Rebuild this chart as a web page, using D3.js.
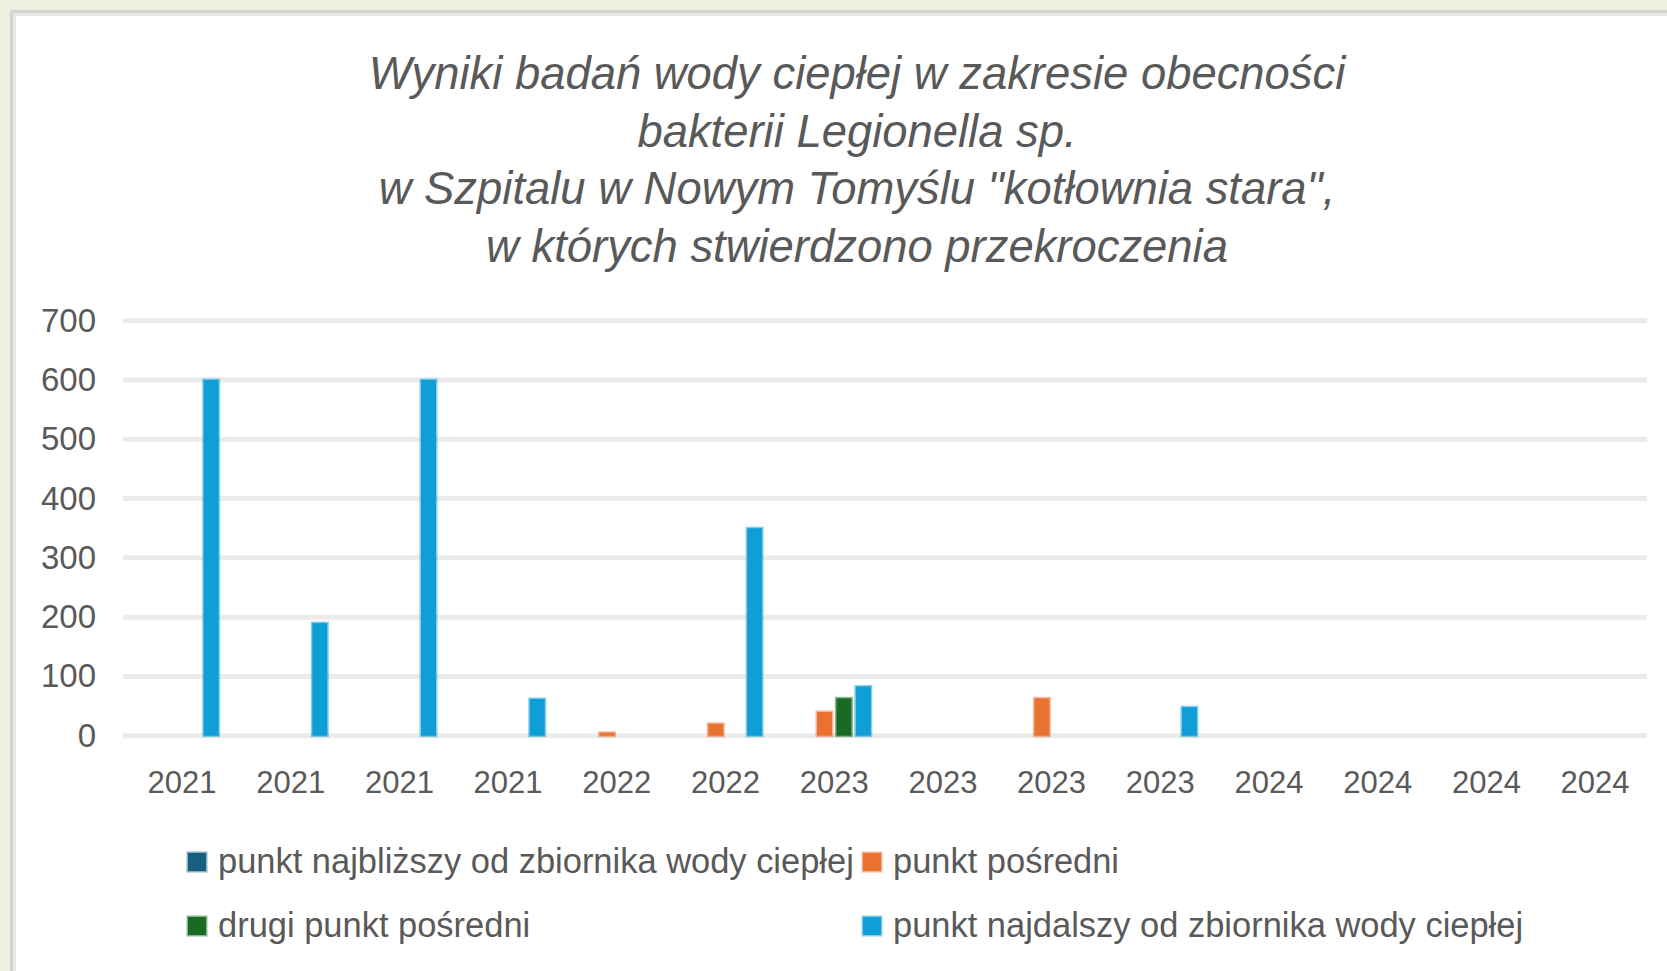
<!DOCTYPE html>
<html>
<head>
<meta charset="utf-8">
<script src="https://cdn.jsdelivr.net/npm/d3@7"></script>
<style>
  html, body { margin: 0; padding: 0; background: #edf0e0; }
  svg { display: block; }
  text { font-family: "Liberation Sans", Arial, sans-serif; }
</style>
</head>
<body>
<svg id="chart" width="1667" height="971"></svg>
<script>
// ---------------- data ----------------
const titleLines = [
  "Wyniki badań wody ciepłej w zakresie obecności",
  "bakterii Legionella sp.",
  "w Szpitalu w Nowym Tomyślu \"kotłownia stara\",",
  "w których stwierdzono przekroczenia"
];
const categories = ["2021","2021","2021","2021","2022","2022","2023","2023","2023","2023","2024","2024","2024","2024"];
const seriesNames = [
  "punkt najbliższy od zbiornika wody ciepłej",
  "punkt pośredni",
  "drugi punkt pośredni",
  "punkt najdalszy od zbiornika wody ciepłej"
];
const seriesColors = ["#156082", "#E97132", "#196B24", "#0F9ED5"];
const najblizszy = [0,0,0,0,0,0,0,0,0,0,0,0,0,0];
const posredni   = [0,0,0,0,5,20,40,0,63,0,0,0,0,0];
const drugiPosredni = [0,0,0,0,0,0,63,0,0,0,0,0,0,0];
const najdalszy  = [600,190,600,62,0,350,83,0,0,48,0,0,0,0];
const yTicks = [0,100,200,300,400,500,600,700];

const seriesValues = [najblizszy, posredni, drugiPosredni, najdalszy];

// ---------------- layout ----------------
const svg = d3.select("#chart");
const W = 1667, H = 971;
const textColor = "#595959";

// chart area frame
svg.append("rect").attr("x", 0).attr("y", 0).attr("width", W).attr("height", H).attr("fill", "#edf0e0");
svg.append("rect").attr("x", 10).attr("y", 10).attr("width", W).attr("height", H).attr("fill", "#d4d5cf");
svg.append("rect").attr("x", 13).attr("y", 13).attr("width", W).attr("height", H).attr("fill", "#e8e8e8");
svg.append("rect").attr("x", 16).attr("y", 16).attr("width", W).attr("height", H).attr("fill", "#ffffff");

// title
const titleG = svg.append("g");
const titleCx = 857;
const titleBase = 89, titleStep = 57.5;
const tTexts = titleG.selectAll("text").data(titleLines).join("text")
  .attr("x", titleCx)
  .attr("y", (d, i) => titleBase + i * titleStep)
  .attr("text-anchor", "middle")
  .attr("font-style", "italic")
  .attr("font-size", 40)
  .attr("fill", textColor)
  .text(d => d);
const l1 = tTexts.nodes()[0].getComputedTextLength();
tTexts.attr("font-size", 40 * 977 / l1);

// scales
const plotLeft = 123, plotRight = 1647;
const y = d3.scaleLinear().domain([0, 700]).range([735.7, 320.7]);
const x0 = d3.scaleBand().domain(d3.range(categories.length))
  .range([127.65, 1649.45]).paddingInner(0.286).paddingOuter(0.143);
const x1 = d3.scaleBand().domain(d3.range(seriesNames.length))
  .range([0, x0.bandwidth()]).paddingInner(0.227).paddingOuter(0.1135);

// gridlines
svg.append("g").selectAll("line").data(yTicks).join("line")
  .attr("x1", plotLeft).attr("x2", plotRight)
  .attr("y1", d => y(d)).attr("y2", d => y(d))
  .attr("stroke", "#ebebeb").attr("stroke-width", 5);

// y axis labels
const yAxis = svg.append("g").attr("transform", `translate(${plotLeft},0)`)
  .call(d3.axisLeft(y).tickValues(yTicks).tickSize(0).tickPadding(27));
yAxis.select(".domain").remove();
yAxis.selectAll("text").attr("font-size", 33).attr("fill", textColor)
  .attr("font-family", "'Liberation Sans', Arial, sans-serif");

// x axis labels
const xAxis = svg.append("g").attr("transform", `translate(0,${y(0)})`)
  .call(d3.axisBottom(x0).tickSize(0).tickPadding(35).tickFormat(i => categories[i]));
xAxis.select(".domain").remove();
xAxis.selectAll("text").attr("font-size", 31).attr("fill", textColor)
  .attr("font-family", "'Liberation Sans', Arial, sans-serif");

// bars
const barData = [];
seriesValues.forEach((vals, s) => vals.forEach((v, i) => { if (v > 0) barData.push({ s, i, v }); }));
svg.append("g").selectAll("rect").data(barData).join("rect")
  .attr("x", d => x0(d.i) + x1(d.s))
  .attr("width", x1.bandwidth())
  .attr("y", d => y(d.v))
  .attr("height", d => y(0) - y(d.v))
  .attr("fill", d => seriesColors[d.s])
  .attr("stroke", d => seriesColors[d.s])
  .attr("stroke-opacity", 0.5)
  .attr("stroke-width", 3);

// legend
const legendPos = [
  { mx: 186, cy: 862 },
  { mx: 861, cy: 862 },
  { mx: 186, cy: 926 },
  { mx: 861, cy: 926 }
];
const lg = svg.append("g").selectAll("g").data(seriesNames).join("g")
  .attr("transform", (d, i) => `translate(${legendPos[i].mx},${legendPos[i].cy})`);
lg.append("rect")
  .attr("x", 2).attr("y", -9).attr("width", 18).attr("height", 18)
  .attr("fill", (d, i) => seriesColors[i])
  .attr("stroke", (d, i) => seriesColors[i])
  .attr("stroke-opacity", 0.5).attr("stroke-width", 3);
const lt = lg.append("text")
  .attr("x", 32).attr("y", 11)
  .attr("font-size", 30).attr("fill", textColor)
  .text(d => d);
const lw = lt.nodes()[0].getComputedTextLength();
lt.attr("font-size", 30 * 636 / lw);
</script>
</body>
</html>
